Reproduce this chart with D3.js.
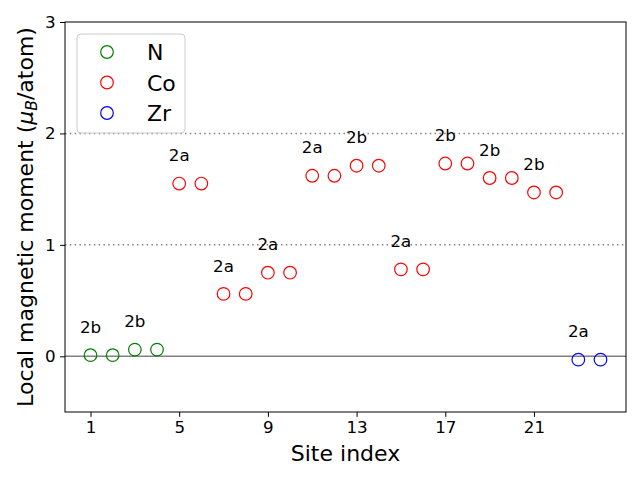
<!DOCTYPE html>
<html><head><meta charset="utf-8">
<script src="https://cdn.jsdelivr.net/npm/d3@7"></script>
<style>body{margin:0;background:#fff}svg{display:block}text{font-family:"DejaVu Sans",sans-serif}</style>
</head><body><svg id="c" width="640" height="480"></svg>
<script>
const nSites = [1,2,3,4];
const nValues = [0.01,0.01,0.06,0.06];
const coSites = [5,6,7,8,9,10,11,12,13,14,15,16,17,18,19,20,21,22];
const coValues = [1.55,1.55,0.56,0.56,0.75,0.75,1.62,1.62,1.71,1.71,0.78,0.78,1.73,1.73,1.60,1.60,1.47,1.47];
const zrSites = [23,24];
const zrValues = [-0.03,-0.03];
const labelSites = [1,3,5,7,9,11,13,15,17,19,21,23];
const labelTexts = ["2b","2b","2a","2a","2a","2a","2b","2a","2b","2b","2b","2a"];
const xTicks = [1,5,9,13,17,21];
const yTicks = [0,1,2,3];
const seriesNames = ["N","Co","Zr"];
const seriesColors = ["green","red","blue"];

const svg = d3.select("#c");
const L=65,R=626,T=22,B=412;
const x = d3.scaleLinear().domain([-0.15,25.15]).range([L,R]);
const y = d3.scaleLinear().domain([-0.5,3]).range([B,T]);

// reference lines
svg.append("line").attr("x1",L).attr("x2",R).attr("y1",y(0)).attr("y2",y(0))
  .attr("stroke","gray").attr("stroke-width",1.5);
[1,2].forEach(v=>svg.append("line").attr("x1",L).attr("x2",R).attr("y1",y(v)).attr("y2",y(v))
  .attr("stroke","gray").attr("stroke-width",1.5).attr("stroke-dasharray","1.5,3.3"));

const series = [
  {sites:nSites, vals:nValues},
  {sites:coSites, vals:coValues},
  {sites:zrSites, vals:zrValues}
];
const allVals = {};
series.forEach((s,i)=>{
  s.sites.forEach((st,j)=>{ allVals[st]=s.vals[j]; });
  svg.append("g").selectAll("circle").data(s.sites.map((st,j)=>[st,s.vals[j]])).join("circle")
    .attr("cx",d=>x(d[0])).attr("cy",d=>y(d[1])).attr("r",6.3)
    .attr("fill","none").attr("stroke",seriesColors[i]).attr("stroke-width",1.2);
});

svg.append("g").selectAll("text").data(labelSites.map((s,i)=>[s,labelTexts[i]])).join("text")
  .attr("x",d=>x(d[0])).attr("y",d=>y(allVals[d[0]]+0.2)).attr("text-anchor","middle")
  .attr("font-size",16.7).attr("fill","#000").text(d=>d[1]);

// axes
const xa = svg.append("g").attr("transform",`translate(0,${B})`)
  .call(d3.axisBottom(x).tickValues(xTicks).tickFormat(d3.format("d")).tickSize(4.9).tickPadding(4.5));
const ya = svg.append("g").attr("transform",`translate(${L},0)`)
  .call(d3.axisLeft(y).tickValues(yTicks).tickFormat(d3.format("d")).tickSize(4.9).tickPadding(4.5));
[xa,ya].forEach(a=>{a.attr("font-size",16.7).attr("font-family","DejaVu Sans");a.select(".domain").remove();a.selectAll("text").attr("fill","#000");a.selectAll("line").attr("stroke","#000");});
svg.append("rect").attr("x",L).attr("y",T).attr("width",R-L).attr("height",B-T)
  .attr("fill","none").attr("stroke","#000").attr("stroke-width",1);

svg.append("text").attr("x",(L+R)/2).attr("y",461).attr("text-anchor","middle")
  .attr("font-size",22).text("Site index");
const yl = svg.append("text").attr("transform",`translate(33,${(T+B)/2}) rotate(-90)`)
  .attr("text-anchor","middle").attr("font-size",22);
yl.append("tspan").text("Local magnetic moment (");
yl.append("tspan").attr("font-style","italic").text("μ");
yl.append("tspan").attr("font-style","italic").attr("font-size",15.5).attr("dy",4).text("B");
yl.append("tspan").attr("dy",-4).text("/atom)");

// legend
const lg = svg.append("g");
lg.append("rect").attr("x",77).attr("y",34).attr("width",108).attr("height",99).attr("rx",4)
  .attr("fill","#fff").attr("fill-opacity",0.8).attr("stroke","#ccc").attr("stroke-width",1);
seriesNames.forEach((n,i)=>{
  const cy = 52 + i*30.5;
  lg.append("circle").attr("cx",107).attr("cy",cy).attr("r",6.3).attr("fill","none")
    .attr("stroke",seriesColors[i]).attr("stroke-width",1.2);
  lg.append("text").attr("x",147).attr("y",cy+8).attr("font-size",22).text(n);
});
</script></body></html>
